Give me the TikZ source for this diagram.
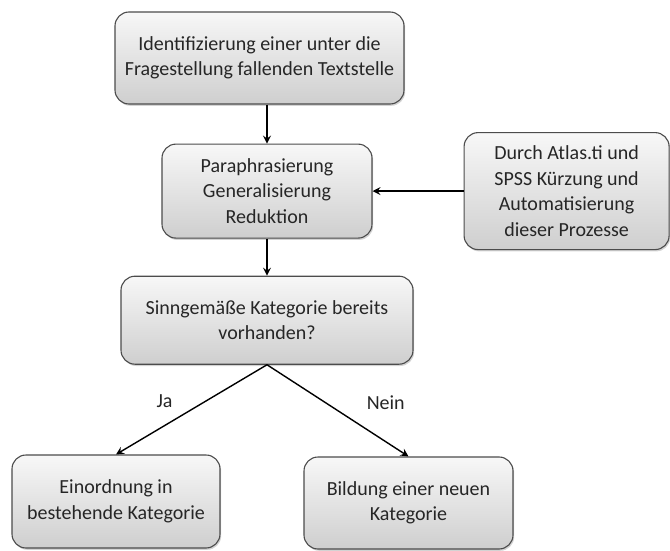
\documentclass[tikz,border=0pt]{standalone}
\usepackage{fontspec}
\setmainfont{Carlito}
\usetikzlibrary{arrows.meta,positioning,shadows}

\tikzset{
  stepbox/.style={draw=gray!60!black, line width=1.1pt, rounded corners=14pt,
    top color=gray!6, bottom color=gray!38, align=center, inner sep=2pt,
    text=black!85, font=\fontsize{20}{25.5}\selectfont,
    drop shadow={opacity=0.35, shadow xshift=1.2pt, shadow yshift=-1.8pt}},
  flow/.style={-{Stealth[length=8pt,width=8pt,inset=3pt]}, line width=1.4pt},
  answer/.style={font=\fontsize{20}{25}\selectfont, text=black!85}
}

\begin{document}
\begin{tikzpicture}[>=Stealth, node distance=3.0cm]
  \useasboundingbox (0,0) rectangle (670pt,-551pt);
  \node[stepbox, minimum width=289pt, minimum height=92pt] (ident) at (259.5pt,-58pt)
    {Identifizierung einer unter die\\Fragestellung fallenden Textstelle};
  \node[stepbox, minimum width=210pt, minimum height=94pt] (para) [below=39pt of ident, xshift=7.5pt]
    {Paraphrasierung\\Generalisierung\\Reduktion};
  \node[stepbox, minimum width=205pt, minimum height=117pt] (atlas) [right=91pt of para]
    {Durch Atlas.ti und\\SPSS Kürzung und\\Automatisierung\\dieser Prozesse};
  \node[stepbox, minimum width=292pt, minimum height=88pt] (frage) [below=37pt of para]
    {Sinngemäße Kategorie bereits\\vorhanden?};
  \node[stepbox, minimum width=208pt, minimum height=93pt] (einord) at (116pt,-501.5pt)
    {Einordnung in\\bestehende Kategorie};
  \node[stepbox, minimum width=209pt, minimum height=92pt] (bildung) at (408.5pt,-503pt)
    {Bildung einer neuen\\Kategorie};
  \draw[flow] (ident.south -| para.north) -- (para.north);
  \draw[flow] (atlas.west) -- (para.east);
  \draw[flow] (para.south) -- (frage.north);
  \draw[flow] (frage.south) -- node[answer, pos=0.5, left=15pt, yshift=8pt]{Ja} (einord.north);
  \draw[flow] (frage.south) -- node[answer, pos=0.5, right=25pt, yshift=8pt]{Nein} (bildung.north);
\end{tikzpicture}
\end{document}
